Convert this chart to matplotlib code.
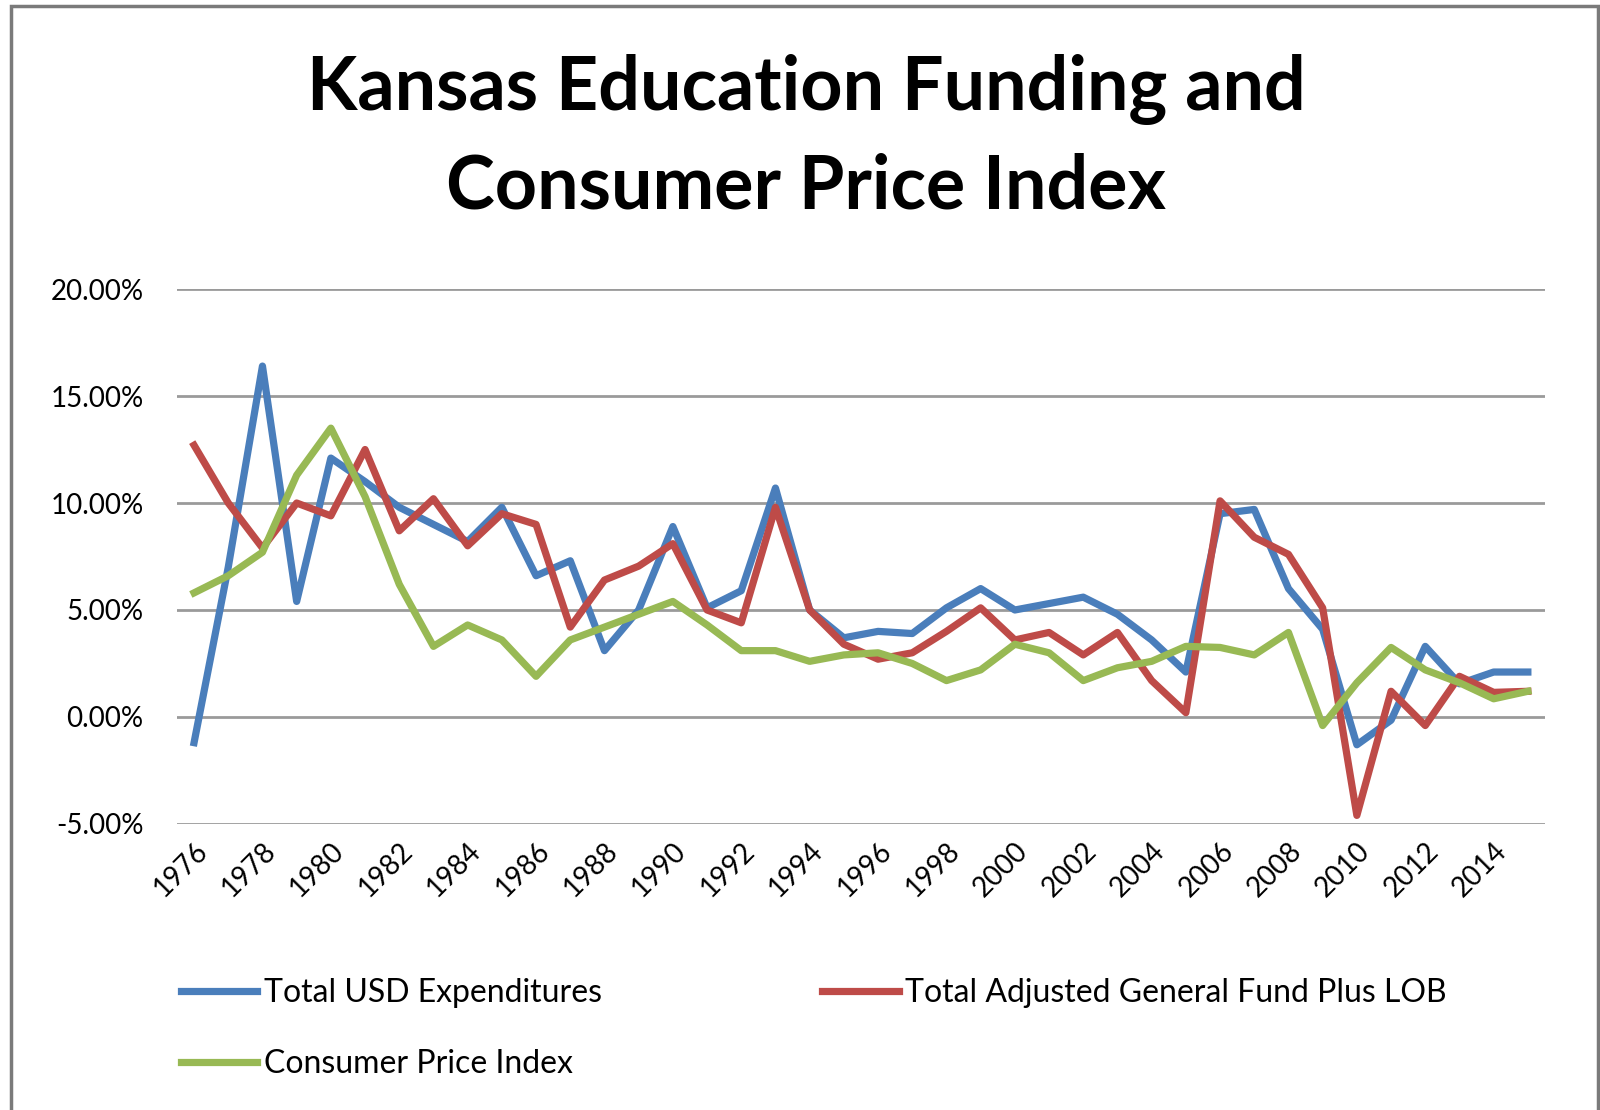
import matplotlib.pyplot as plt
from matplotlib.patches import Rectangle
from matplotlib.ticker import FuncFormatter

plt.rcParams['font.family'] = ['Lato', 'DejaVu Sans']

years = list(range(1976, 2016))
total_usd = [-1.2, 7.0, 16.4, 5.4, 12.1, 11.0, 9.8, 9.0, 8.2, 9.8,
             6.6, 7.3, 3.1, 5.0, 8.9, 5.1, 5.9, 10.7, 5.0, 3.7,
             4.0, 3.9, 5.1, 6.0, 5.0, 5.3, 5.6, 4.8, 3.6, 2.1,
             9.5, 9.7, 6.0, 4.1, -1.3, -0.15, 3.3, 1.55, 2.1, 2.1]
adj_general_fund = [12.7, 10.0, 7.9, 10.0, 9.4, 12.5, 8.7, 10.2, 8.0, 9.5,
                    9.0, 4.2, 6.4, 7.05, 8.1, 5.0, 4.4, 9.8, 5.0, 3.4,
                    2.7, 3.0, 4.0, 5.1, 3.6, 3.95, 2.9, 3.95, 1.7, 0.2,
                    10.1, 8.4, 7.6, 5.1, -4.6, 1.2, -0.4, 1.9, 1.15, 1.2]
cpi = [5.8, 6.6, 7.7, 11.3, 13.5, 10.3, 6.2, 3.3, 4.3, 3.6,
       1.9, 3.6, 4.2, 4.8, 5.4, 4.3, 3.1, 3.1, 2.6, 2.9,
       3.0, 2.5, 1.7, 2.2, 3.4, 3.0, 1.7, 2.3, 2.6, 3.3,
       3.25, 2.9, 3.95, -0.4, 1.6, 3.25, 2.2, 1.6, 0.85, 1.2]
tick_years = list(range(1976, 2015, 2))

fig = plt.figure(figsize=(16, 11.1), dpi=100)
ax = fig.add_axes([0.1106, 0.2577, 0.855, 0.4819])

l1, = ax.plot(years, total_usd, color='#4A7EBB', lw=5.2, label='Total USD Expenditures')
l2, = ax.plot(years, adj_general_fund, color='#BE4B48', lw=5.2, label='Total Adjusted General Fund Plus LOB')
l3, = ax.plot(years, cpi, color='#98B954', lw=5.2, label='Consumer Price Index')

ax.set_xlim(1975.5, 2015.5)
ax.set_ylim(-5, 20)
ax.set_yticks([-5, 0, 5, 10, 15, 20])
ax.yaxis.set_major_formatter(FuncFormatter(lambda v, p: f'{v:.2f}%'))
ax.set_xticks(tick_years)
ax.set_xticklabels([str(y) for y in tick_years], rotation=45, ha='right', rotation_mode='anchor')
ax.tick_params(axis='both', length=0, labelsize=20, colors='#000000')
ax.tick_params(axis='y', pad=24)
ax.tick_params(axis='x', pad=10)
ax.grid(axis='y', color='#9A9A9A', lw=2)
ax.set_axisbelow(True)
for s in ax.spines.values():
    s.set_visible(False)

fig.text(0.504, 0.876, 'Kansas Education Funding and\nConsumer Price Index', ha='center', va='center',
         fontsize=53, fontweight='bold', linespacing=1.5)

# column-wise fill: blue, cpi in first column, red in second
fig.legend([l1, l3, l2], [l1.get_label(), l3.get_label(), l2.get_label()],
           loc='upper left', bbox_to_anchor=(0.095, 0.145), ncol=2, frameon=False,
           fontsize=23, handlelength=2.4, handletextpad=0.2, columnspacing=6.9,
           labelspacing=1.3)

# outer chart border
fig.patches.append(Rectangle((0.0066, -0.01), 0.992, 1.0045, transform=fig.transFigure,
                             fill=False, edgecolor='#7A7A7A', lw=2.5))

fig.savefig('out.png', dpi=100)
